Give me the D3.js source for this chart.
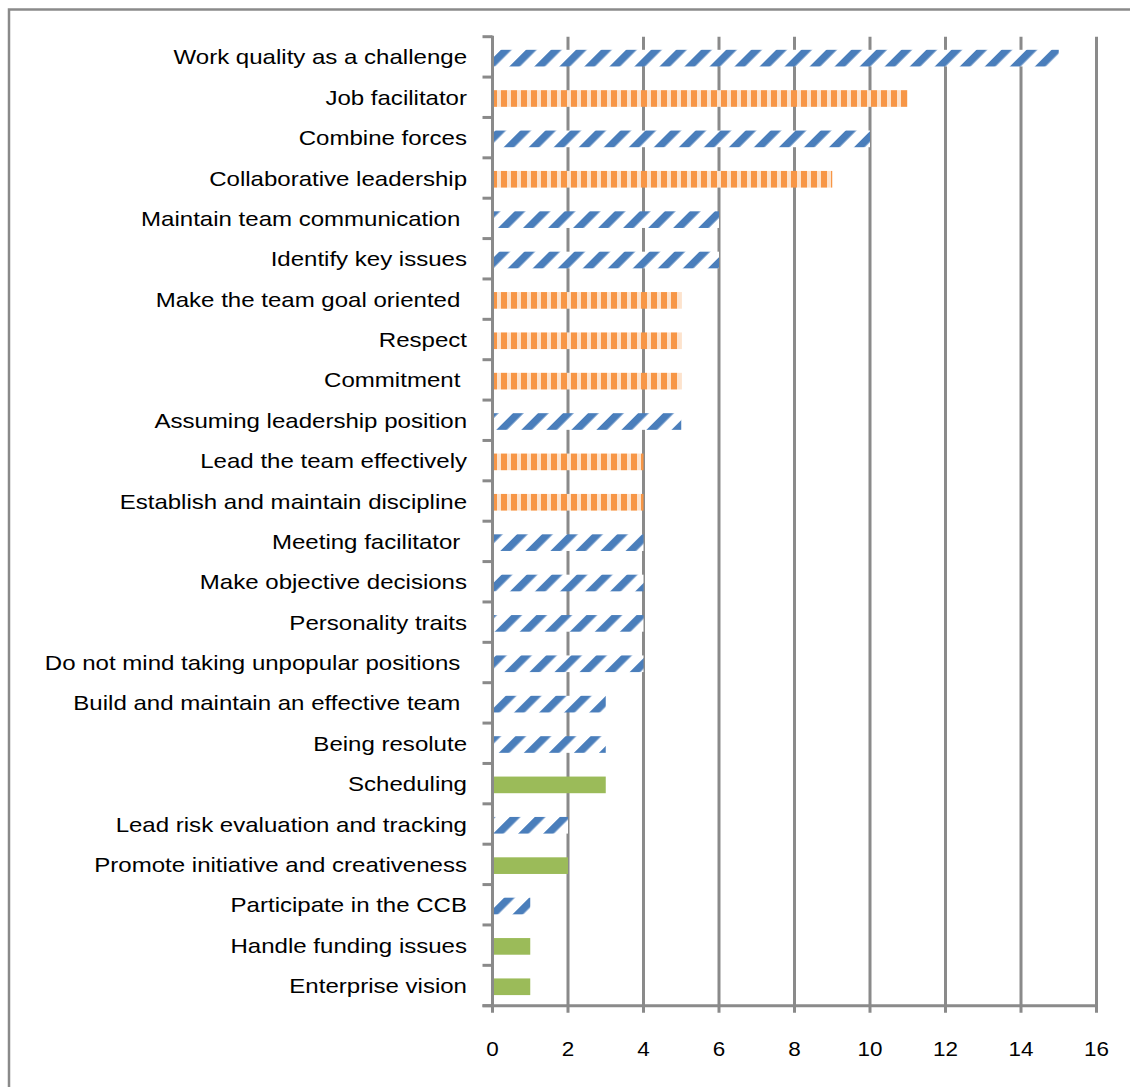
<!DOCTYPE html>
<html>
	<head>
		<meta charset = "utf-8">
		<script src = "https://d3js.org/d3.v7.min.js"></script>
		<style>
			body { margin: 0; background: #fff; }
			text { font-family: "Liberation Sans", Arial, sans-serif; font-size: 21px; fill: #000; white-space: pre; }
		</style>
	</head>
	<body>
		<script>
			// Categorías, de arriba hacia abajo
			var categories = [
				"Work quality as a challenge", "Job facilitator", "Combine forces",
				"Collaborative leadership", "Maintain team communication ", "Identify key issues",
				"Make the team goal oriented ", "Respect", "Commitment ",
				"Assuming leadership position", "Lead the team effectively", "Establish and maintain discipline",
				"Meeting facilitator ", "Make objective decisions", "Personality traits",
				"Do not mind taking unpopular positions ", "Build and maintain an effective team ", "Being resolute",
				"Scheduling", "Lead risk evaluation and tracking", "Promote initiative and creativeness",
				"Participate in the CCB", "Handle funding issues", "Enterprise vision"
			];
			var values = [15, 11, 10, 9, 6, 6, 5, 5, 5, 5, 4, 4, 4, 4, 4, 4, 3, 3, 3, 2, 2, 1, 1, 1];
			// Grupo de cada barra (A = rayas diagonales, B = rayas verticales, C = sólido)
			var groups = ["A", "B", "A", "B", "A", "A", "B", "B", "B", "A", "B", "B",
			              "A", "A", "A", "A", "A", "A", "C", "A", "C", "A", "C", "C"];
			var xTicks = [0, 2, 4, 6, 8, 10, 12, 14, 16];

			var width = 1130, height = 1087;
			var plotLeft = 492.5, plotRight = 1096.5, plotTop = 36.7, plotBottom = 1005.7;
			var gray = "#8a8a8a";

			var svg = d3.select("body").append("svg")
				.attr("width", width)
				.attr("height", height);

			var defs = svg.append("defs");

			// Patrón de rayas diagonales azules
			var pa = defs.append("pattern")
				.attr("id", "pat-A")
				.attr("patternUnits", "userSpaceOnUse")
				.attr("width", 17.7).attr("height", 20)
				.attr("patternTransform", "rotate(45)");
			pa.append("rect").attr("width", 17.7).attr("height", 20).attr("fill", "#fff");
			pa.append("rect").attr("width", 7.5).attr("height", 20).attr("fill", "#4a7ebb");

			// Patrón de rayas verticales naranjas
			var pb = defs.append("pattern")
				.attr("id", "pat-B")
				.attr("patternUnits", "userSpaceOnUse")
				.attr("width", 10).attr("height", 20);
			pb.append("rect").attr("width", 10).attr("height", 20).attr("fill", "#fde3cd");
			pb.append("rect").attr("x", 1).attr("width", 6).attr("height", 20).attr("fill", "#f79646");

			var fills = { A: "url(#pat-A)", B: "url(#pat-B)", C: "#9bbb59" };

			var x = d3.scaleLinear().domain([0, 16]).range([plotLeft, plotRight]);
			var y = d3.scaleBand().domain(categories).range([plotTop, plotBottom]).paddingInner(0.6).paddingOuter(0.3);
			var yEdge = d3.scaleLinear().domain([0, categories.length]).range([plotTop, plotBottom]);

			// Marco exterior
			svg.append("rect")
				.attr("x", 9).attr("y", 9.5)
				.attr("width", 1200).attr("height", 1200)
				.attr("fill", "none").attr("stroke", gray).attr("stroke-width", 2.5);

			// Líneas de cuadrícula verticales
			svg.append("g").selectAll("line")
				.data(xTicks.slice(1))
				.join("line")
				.attr("x1", function(d){ return x(d); })
				.attr("x2", function(d){ return x(d); })
				.attr("y1", plotTop).attr("y2", plotBottom + 7)
				.attr("stroke", gray).attr("stroke-width", 3);

			// Barras
			svg.append("g").selectAll("rect")
				.data(categories)
				.join("rect")
				.attr("x", x(0) + 1.5)
				.attr("y", function(d){ return y(d) + 1; })
				.attr("width", function(d, i){ return x(values[i]) - x(0) - 1.5; })
				.attr("height", y.bandwidth() + 0.5)
				.attr("fill", function(d, i){ return fills[groups[i]]; });

			// Eje de categorías
			svg.append("line")
				.attr("x1", x(0)).attr("x2", x(0))
				.attr("y1", plotTop - 1).attr("y2", plotBottom + 7)
				.attr("stroke", gray).attr("stroke-width", 3);
			svg.append("g").selectAll("line")
				.data(d3.range(categories.length + 1))
				.join("line")
				.attr("x1", x(0) - 10).attr("x2", x(0))
				.attr("y1", function(d){ return yEdge(d); })
				.attr("y2", function(d){ return yEdge(d); })
				.attr("stroke", gray).attr("stroke-width", 3);

			// Eje de valores
			svg.append("line")
				.attr("x1", x(0) - 10).attr("x2", x(16) + 1.5)
				.attr("y1", plotBottom).attr("y2", plotBottom)
				.attr("stroke", gray).attr("stroke-width", 3);

			// El texto del original está algo ensanchado en horizontal
			svg.append("g").selectAll("text")
				.data(xTicks)
				.join("text")
				.attr("transform", function(d){ return "translate(" + x(d) + ",1056) scale(1.07,1)"; })
				.attr("text-anchor", "middle")
				.text(function(d){ return d; });

			// Etiquetas de categorías
			svg.append("g").selectAll("text")
				.data(categories)
				.join("text")
				.attr("transform", function(d){ return "translate(467," + (y(d) + y.bandwidth() / 2) + ") scale(1.145,1)"; })
				.attr("dy", "0.36em")
				.attr("text-anchor", "end")
				.text(function(d){ return d; });
		</script>
	</body>
</html>
